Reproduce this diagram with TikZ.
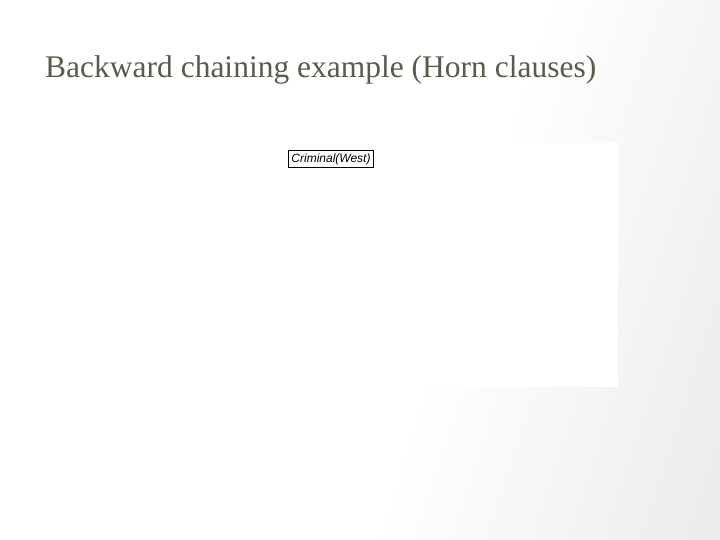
\documentclass[tikz,border=0pt]{standalone}
\usepackage{fontspec}
\setmainfont{Liberation Serif}
\newfontfamily\figfont{Liberation Sans}
\usetikzlibrary{positioning}
\definecolor{titlegray}{HTML}{5C5A4C}
\pgfdeclarehorizontalshading{slidebg}{100bp}{color(0bp)=(white); color(57bp)=(white); color(100bp)=(black!14)}

\begin{document}
\begin{tikzpicture}[x=1pt,y=-1pt]
		\tikzstyle{goal}=[draw,thin,inner sep=3pt,font=\figfont\itshape\fontsize{12}{14}\selectfont]
		
		% slide background and figure panel
		\shade[shading=slidebg,shading angle=-18] (0,0) rectangle (720,540);
		\useasboundingbox (0,0) rectangle (720,540);
		\fill[white] (98,143) rectangle (618,387);
		
		\node[anchor=base west,text=titlegray,font=\fontsize{31.5}{36}\selectfont,inner sep=0pt] (title) at (45,78) {Backward chaining example (Horn clauses)};
		
		\node[goal] (goal) at (331,159) {Criminal(West)};
		
		;
		\end{tikzpicture}
\end{document}
